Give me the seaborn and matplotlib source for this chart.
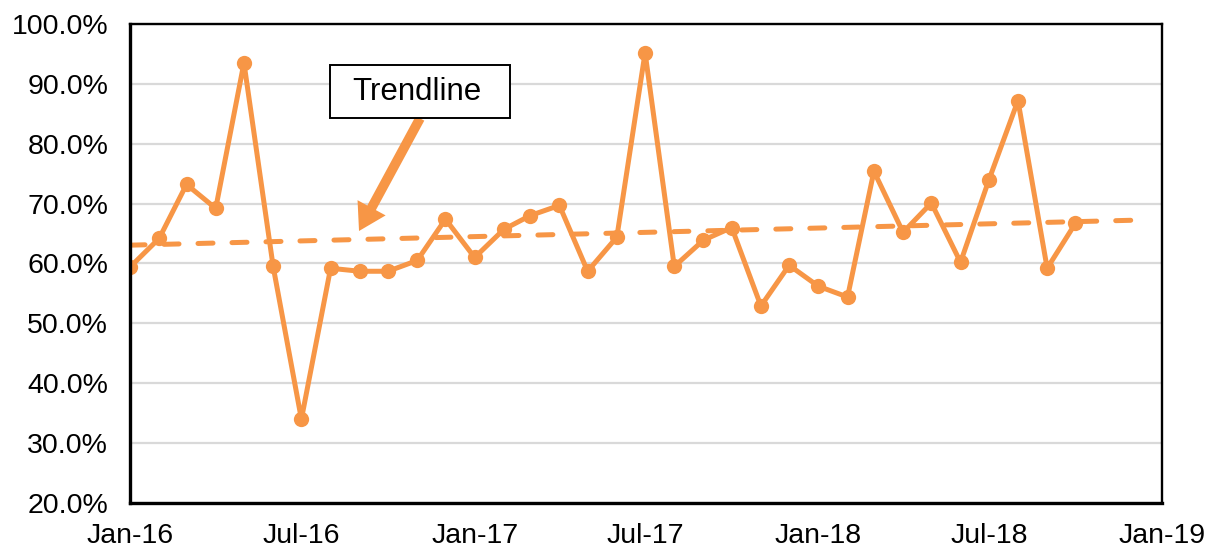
import numpy as np
import pandas as pd
import matplotlib
matplotlib.use("Agg")
import matplotlib.pyplot as plt
import matplotlib.dates as mdates
from matplotlib.patches import Rectangle
from matplotlib.ticker import PercentFormatter
import seaborn as sns

# monthly values, Jan-16 .. Oct-18 (percent)
months = pd.date_range("2016-01-01", "2018-10-01", freq="MS")
values = [59.4, 64.2, 73.2, 69.2, 93.5, 59.5, 34.0, 59.2, 58.7, 58.7, 60.5, 67.4,
          61.0, 65.7, 68.0, 69.7, 58.7, 64.4, 95.2, 59.5, 63.9, 66.0, 52.9, 59.7,
          56.2, 54.4, 75.4, 65.2, 70.1, 60.2, 73.9, 87.2, 59.2, 66.7]
trend_end = pd.Timestamp("2018-12-01")
tick_dates = pd.date_range("2016-01-01", "2019-01-01", freq="6MS")

orange = "#F79646"

df = pd.DataFrame({"month": months, "value": values})

# linear trendline fitted on the data, extended to Dec-18
xnum = mdates.date2num(df["month"])
slope, intercept = np.polyfit(xnum, df["value"], 1)
trend_x = pd.to_datetime([months[0], trend_end])
trend = pd.DataFrame({"month": trend_x,
                      "value": slope * mdates.date2num(trend_x) + intercept})

sns.set_style("white")
plt.rcParams["font.family"] = ["Liberation Sans", "DejaVu Sans"]
plt.rcParams["text.color"] = "black"

fig = plt.figure(figsize=(12.14, 5.5), dpi=100)
ax = fig.add_axes([0.1071, 0.0855, 0.8501, 0.8709])

sns.lineplot(data=df, x="month", y="value", ax=ax, color=orange, lw=3.6,
             marker="o", markersize=11, markeredgewidth=0)
sns.lineplot(data=trend, x="month", y="value", ax=ax, color=orange, lw=3.6,
             linestyle=(0, (3, 3.8)), dash_capstyle="round")

ax.set_ylim(20, 100)
ax.set_xlim(tick_dates[0], tick_dates[-1])
ax.set_yticks(np.arange(20, 101, 10))
ax.yaxis.set_major_formatter(PercentFormatter(decimals=1))
ax.set_xticks(tick_dates)
ax.xaxis.set_major_formatter(mdates.DateFormatter("%b-%y"))
ax.grid(axis="y", color="#D9D9D9", lw=1.6)
ax.set_axisbelow(True)
ax.set_xlabel("")
ax.set_ylabel("")

for s in ax.spines.values():
    s.set_color("black")
    s.set_linewidth(1.7)
ax.spines["left"].set_linewidth(2.4)
ax.spines["bottom"].set_linewidth(2.4)

ax.tick_params(axis="both", direction="inout", length=11.5, width=1.6,
               labelsize=20.5, colors="black")
ax.tick_params(axis="x", pad=9)
ax.tick_params(axis="y", pad=10)

# callout box and arrow
ax.add_patch(Rectangle((0.1938, 0.8038), 0.1744, 0.1106, transform=ax.transAxes,
                       fc="white", ec="black", lw=1.4, zorder=5))
ax.text(0.2781, 0.8590, "Trendline", transform=ax.transAxes, color="black",
        ha="center", va="center", fontsize=22.5, zorder=6)
ax.annotate("", xy=(0.2219, 0.5678), xycoords="axes fraction",
            xytext=(0.2810, 0.8030), textcoords="axes fraction",
            arrowprops=dict(arrowstyle="simple,head_length=1.9,head_width=2.3,tail_width=0.7",
                            fc=orange, ec="none", lw=0, shrinkA=0, shrinkB=0,
                            mutation_scale=10))

fig.savefig("out.png", dpi=100)
